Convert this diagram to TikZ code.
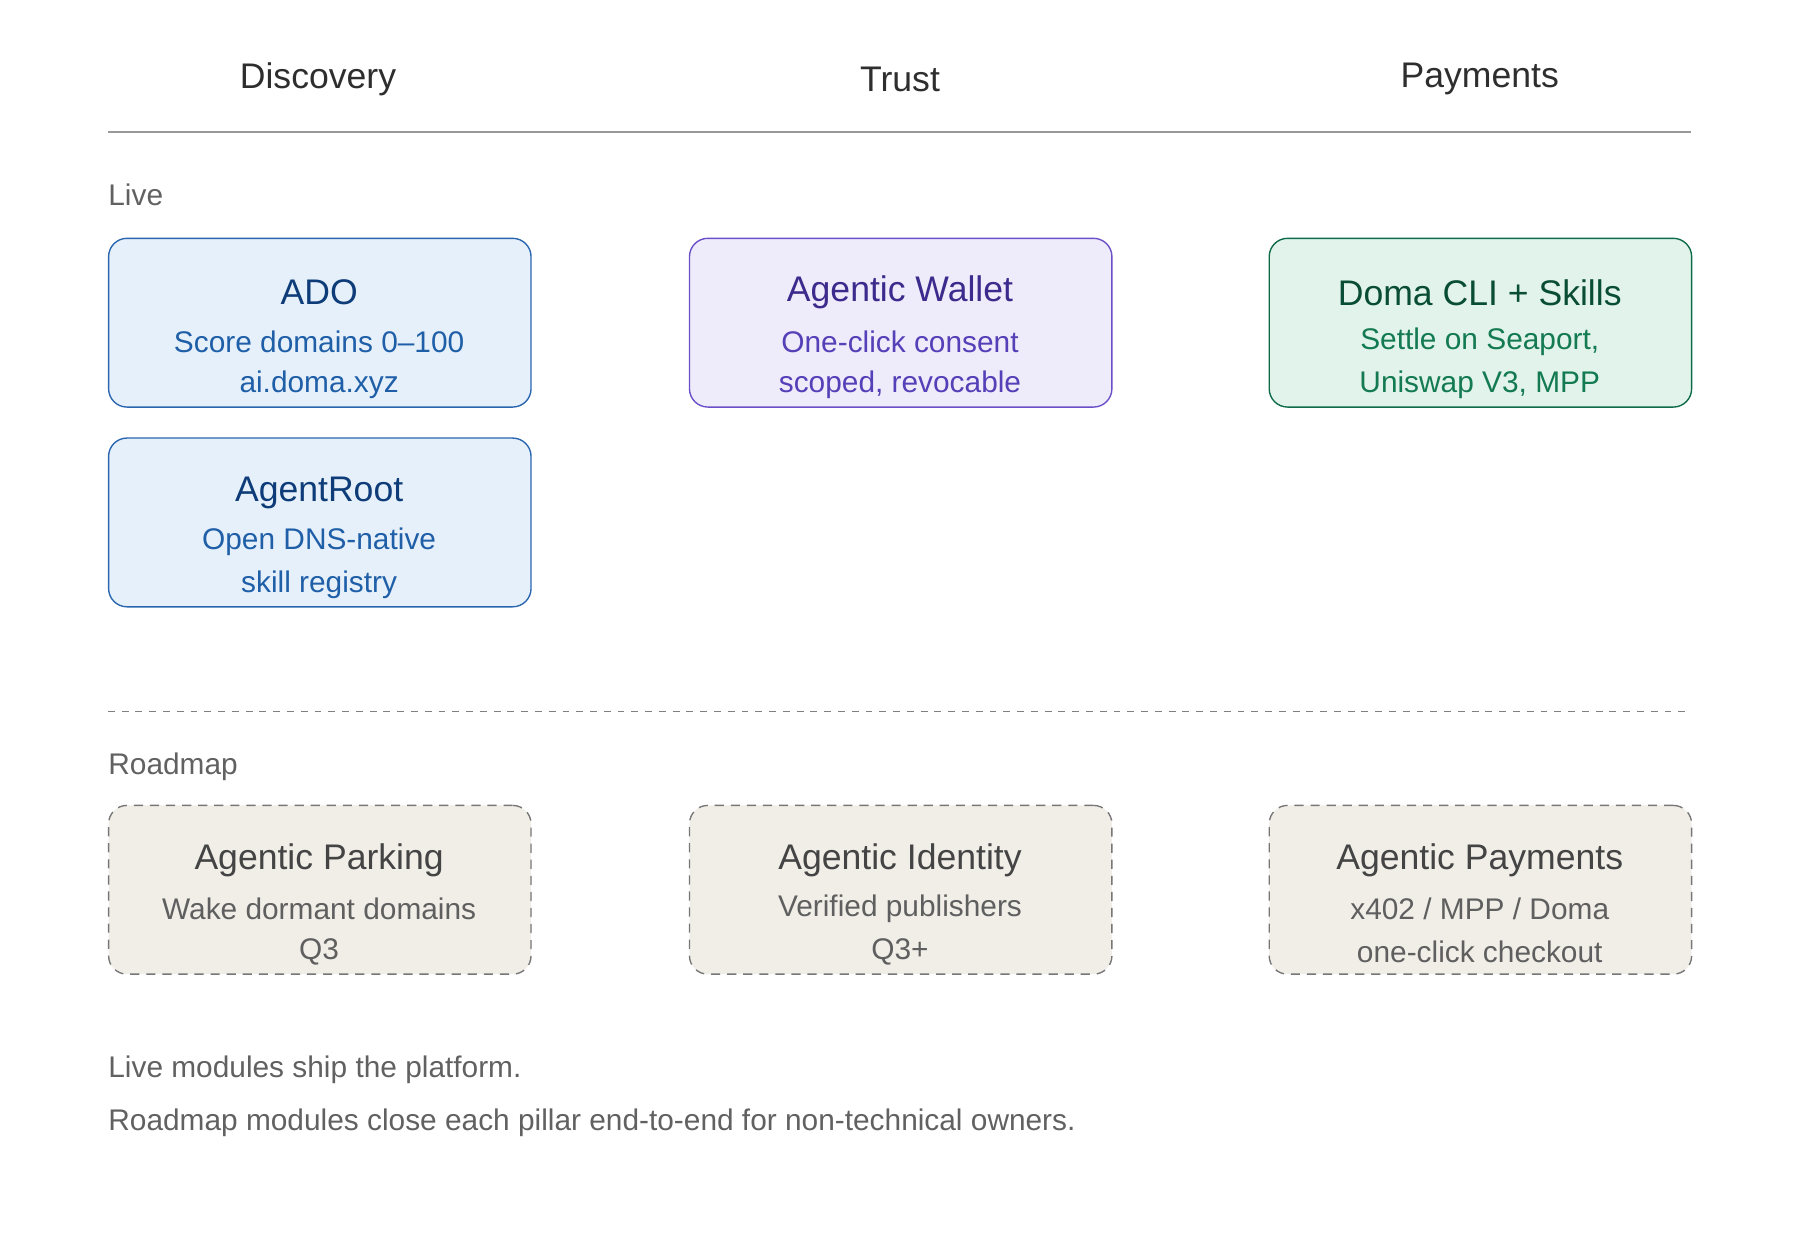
\documentclass[tikz,border=0pt]{standalone}
\usepackage{fontspec}
\setmainfont{Liberation Sans}
\begin{document}
\begin{tikzpicture}[x=0.5pt,y=-0.5pt,
 box/.style={rounded corners=8pt,line width=0.6pt,minimum width=184pt,minimum height=73.5pt,anchor=north west},
 ttl/.style={font=\fontsize{15.5}{18}\selectfont},
 sub/.style={font=\fontsize{13}{16}\selectfont},
 lbl/.style={font=\fontsize{13}{16}\selectfont,text=black!62,anchor=west,inner sep=0pt},
 hd/.style={font=\fontsize{15.5}{18}\selectfont,text=black!82}]
\useasboundingbox (0,0) rectangle (1568,1080);
\definecolor{bF}{HTML}{E6F0FA}\definecolor{bD}{HTML}{2A66B0}\definecolor{bT}{HTML}{0D3C78}\definecolor{bS}{HTML}{1F5FA8}
\definecolor{pF}{HTML}{EEEBFB}\definecolor{pD}{HTML}{6A4FC8}\definecolor{pT}{HTML}{3C2A8C}\definecolor{pS}{HTML}{5540B8}
\definecolor{gF}{HTML}{E1F3EA}\definecolor{gD}{HTML}{0E6B4A}\definecolor{gT}{HTML}{0A4D36}\definecolor{gS}{HTML}{137A52}
\definecolor{rF}{HTML}{F1EEE8}\definecolor{rD}{HTML}{777777}\definecolor{rT}{HTML}{444444}\definecolor{rS}{HTML}{5F5F5F}
\node[hd] (h1) at (277,69) {Discovery};
\node[hd] (h2) at (784,69) {Trust};
\node[hd] (h3) at (1289,69) {Payments};
\coordinate (l1) at (94,115); \coordinate (l2) at (1473,115);
\draw[black!40,line width=0.6pt] (l1) -- (l2);
\node[lbl] (live) at (94,170) {Live};
\coordinate (d1) at (94,620); \coordinate (d2) at (1473,620);
\draw[black!50,dash pattern=on 3pt off 3pt,line width=0.5pt] (d1) -- (d2);
\node[lbl] (road) at (94,668) {Roadmap};
% boxes
\newcommand\mybox[8]{%
 \node[box,fill=#4F,draw=#4D,#8] (#1) at (#2,#3) {};
 \node[ttl,text=#4T] (#1t) at (#2+184,#3+48) {#5};
 \node[sub,text=#4S] (#1a) at (#2+184,#3+91) {#6};
 \node[sub,text=#4S] (#1b) at (#2+184,#3+128) {#7};}
\mybox{ado}{94}{207}{b}{ADO}{Score domains 0–100}{ai.doma.xyz}{}
\mybox{ar}{94}{381}{b}{AgentRoot}{Open DNS-native}{skill registry}{}
\mybox{aw}{600}{207}{p}{Agentic Wallet}{One-click consent}{scoped, revocable}{}
\mybox{cli}{1105}{207}{g}{Doma CLI + Skills}{Settle on Seaport,}{Uniswap V3, MPP}{}
\mybox{ap}{94}{701}{r}{Agentic Parking}{Wake dormant domains}{Q3}{dash pattern=on 4pt off 3pt}
\mybox{ai}{600}{701}{r}{Agentic Identity}{Verified publishers}{Q3+}{dash pattern=on 4pt off 3pt}
\mybox{apay}{1105}{701}{r}{Agentic Payments}{x402 / MPP / Doma}{one-click checkout}{dash pattern=on 4pt off 3pt}
\node[lbl] (f1) at (94,932) {Live modules ship the platform.};
\node[lbl] (f2) at (94,978) {Roadmap modules close each pillar end-to-end for non-technical owners.};
\end{tikzpicture}
\end{document}
